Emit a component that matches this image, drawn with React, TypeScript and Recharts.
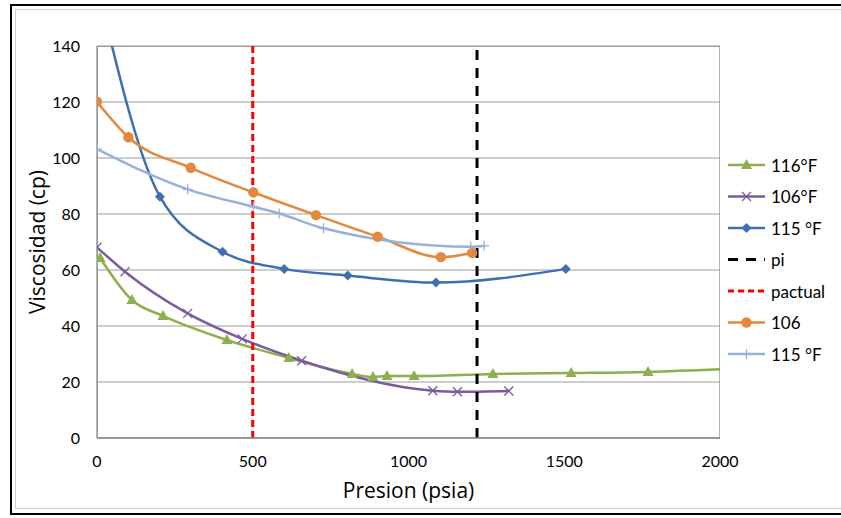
import React from 'react';
import { ComposedChart, Line, XAxis, YAxis, CartesianGrid, ReferenceArea } from 'recharts';

// ---- data ----
const p116 = [10, 112, 212, 417, 616, 819, 886, 931, 1018, 1271, 1522, 1769, 2060];
const v116 = [64.3, 49.3, 43.6, 35, 28.6, 22.9, 21.8, 22.1, 22.1, 22.9, 23.2, 23.6, 24.8];

const p106x = [0, 90, 291, 466, 657, 1078, 1157, 1322];
const v106x = [68.1, 59.4, 44.5, 35.4, 27.6, 16.9, 16.5, 16.8];

const p115d = [0, 202, 403, 601, 805, 1088, 1505];
const v115d = [162, 86.2, 66.5, 60.4, 58, 55.5, 60.4];

const piX = [1220, 1220];
const piY = [0, 140];

const pactX = [500, 500];
const pactY = [0, 140];

const p106 = [0, 101, 301, 502, 703, 901, 1104, 1204];
const v106 = [120.1, 107.4, 96.5, 87.7, 79.6, 71.9, 64.6, 66.1];

const p115p = [0, 291, 502, 585, 727, 1200, 1243];
const v115p = [103.2, 88.8, 82.6, 80.2, 74.9, 68.3, 68.7];

const xTicks = [0, 500, 1000, 1500, 2000];
const yTicks = [0, 20, 40, 60, 80, 100, 120, 140];

const zip = (xs: number[], ys: number[]) => xs.map((x, i) => ({ x, y: ys[i] }));

const C_GREEN = '#8DB04E';
const C_PURPLE = '#7A5C9E';
const C_BLUE = '#3E6FB2';
const C_ORANGE = '#E3893D';
const C_LBLUE = '#97B2D8';

const FONT = 'Lato, "Open Sans", sans-serif';
const TITLE_FONT = '"Open Sans", Lato, sans-serif';

type Kind = 'tri' | 'x' | 'diamond' | 'circle' | 'plus' | 'none';

function marker(kind: Kind, cx: number, cy: number, color: string, key?: string) {
  switch (kind) {
    case 'tri':
      return <path key={key} d={`M${cx},${cy - 6} L${cx + 5.5},${cy + 4} L${cx - 5.5},${cy + 4} Z`} fill={color} />;
    case 'x':
      return <path key={key} d={`M${cx - 4.5},${cy - 4.5} L${cx + 4.5},${cy + 4.5} M${cx - 4.5},${cy + 4.5} L${cx + 4.5},${cy - 4.5}`} stroke={color} strokeWidth={1.3} fill="none" />;
    case 'diamond':
      return <path key={key} d={`M${cx},${cy - 5} L${cx + 5},${cy} L${cx},${cy + 5} L${cx - 5},${cy} Z`} fill={color} />;
    case 'circle':
      return <circle key={key} cx={cx} cy={cy} r={5.2} fill={color} />;
    case 'plus':
      return <path key={key} d={`M${cx - 5},${cy} L${cx + 5},${cy} M${cx},${cy - 5} L${cx},${cy + 5}`} stroke={color} strokeWidth={1.3} fill="none" />;
    default:
      return null;
  }
}

const dotFn = (kind: Kind, color: string) => (props: any) => {
  const { cx, cy, index } = props;
  if (cx == null || cy == null) return <g key={`e-${index}`} />;
  return marker(kind, cx, cy, color, `d-${kind}-${index}`);
};

const legendItems: { name: string; color: string; kind: Kind; dash?: string }[] = [
  { name: '116°F', color: C_GREEN, kind: 'tri' },
  { name: '106°F', color: C_PURPLE, kind: 'x' },
  { name: '115 °F', color: C_BLUE, kind: 'diamond' },
  { name: 'pi', color: '#000000', kind: 'none', dash: '10 8' },
  { name: 'pactual', color: '#FF0000', kind: 'none', dash: '6 4' },
  { name: '106', color: C_ORANGE, kind: 'circle' },
  { name: '115 °F', color: C_LBLUE, kind: 'plus' },
];

const xTitle = (props: any) => {
  const vb = props.viewBox || {};
  return (
    <text x={vb.x + vb.width / 2} y={vb.y + 52} textAnchor="middle" dominantBaseline="central" fontSize={21} fontFamily={TITLE_FONT} fill="#000">
      Presion (psia)
    </text>
  );
};

const yTitle = (props: any) => {
  const vb = props.viewBox || {};
  const cx = 37;
  const cy = vb.y + vb.height / 2;
  return (
    <text x={cx} y={cy} transform={`rotate(-90, ${cx}, ${cy})`} textAnchor="middle" dominantBaseline="central" fontSize={21} fontFamily={TITLE_FONT} fill="#000">
      Viscosidad (cp)
    </text>
  );
};

export default function App() {
  return (
    <div style={{ position: 'absolute', left: 0, top: 0, width: 841, height: 518, background: '#fff', overflow: 'hidden' }}>
      <div style={{ position: 'absolute', left: 10, top: 4, width: 900, height: 511, border: '2px solid #000', boxSizing: 'border-box' }} />
      <div style={{ position: 'absolute', left: 15, top: 9, width: 900, height: 500, border: '1px solid #D0D0D0', boxSizing: 'border-box' }} />
      <div style={{ position: 'absolute', left: 0, top: 0 }}>
        <ComposedChart width={841} height={518} margin={{ top: 46, right: 121, bottom: 0, left: 0 }}>
          <CartesianGrid horizontal vertical={false} stroke="#BDBDBD" strokeWidth={1.3} />
          <ReferenceArea x1={0} x2={2000} y1={0} y2={140} fill="none" stroke="#8C8C8C" strokeWidth={1.3} ifOverflow="hidden" />
          <XAxis
            type="number"
            dataKey="x"
            domain={[0, 2000]}
            ticks={xTicks}
            allowDataOverflow
            height={80}
            tickLine={false}
            tickSize={0}
            tickMargin={18}
            axisLine={{ stroke: '#8C8C8C', strokeWidth: 1.3 }}
            tick={{ fontSize: 16, fill: '#000', fontFamily: FONT }}
            label={{ content: xTitle }}
          />
          <YAxis
            type="number"
            dataKey="y"
            domain={[0, 140]}
            ticks={yTicks}
            allowDataOverflow
            width={97}
            tickLine={false}
            tickSize={0}
            tickMargin={17}
            axisLine={{ stroke: '#8C8C8C', strokeWidth: 1.3 }}
            tick={{ fontSize: 16, fill: '#000', fontFamily: FONT }}
            label={{ content: yTitle }}
          />
          <Line data={zip(p116, v116)} dataKey="y" type="monotone" stroke={C_GREEN} strokeWidth={2.5} dot={dotFn('tri', C_GREEN)} isAnimationActive={false} />
          <Line data={zip(p106x, v106x)} dataKey="y" type="monotone" stroke={C_PURPLE} strokeWidth={2.5} dot={dotFn('x', C_PURPLE)} isAnimationActive={false} />
          <Line data={zip(p115d, v115d)} dataKey="y" type="monotone" stroke={C_BLUE} strokeWidth={2.5} dot={dotFn('diamond', C_BLUE)} isAnimationActive={false} />
          <Line data={zip(piX, piY)} dataKey="y" type="linear" stroke="#000" strokeWidth={3} strokeDasharray="10 8" dot={false} isAnimationActive={false} />
          <Line data={zip(pactX, pactY)} dataKey="y" type="linear" stroke="#FF0000" strokeWidth={3} strokeDasharray="7 4" dot={false} isAnimationActive={false} />
          <Line data={zip(p106, v106)} dataKey="y" type="monotone" stroke={C_ORANGE} strokeWidth={2.5} dot={dotFn('circle', C_ORANGE)} isAnimationActive={false} />
          <Line data={zip(p115p, v115p)} dataKey="y" type="monotone" stroke={C_LBLUE} strokeWidth={2.5} dot={dotFn('plus', C_LBLUE)} isAnimationActive={false} />
        </ComposedChart>
      </div>
      <svg style={{ position: 'absolute', left: 725, top: 148 }} width={116} height={225}>
        {legendItems.map((it, i) => {
          const y = 17 + i * 31.5;
          return (
            <g key={i}>
              <line x1={3} x2={40} y1={y} y2={y} stroke={it.color} strokeWidth={it.dash ? 3 : 2.5} strokeDasharray={it.dash} />
              {marker(it.kind, 21.5, y, it.color)}
              <text x={46} y={y} dominantBaseline="central" fontSize={17} fontFamily={FONT} fill="#000">{it.name}</text>
            </g>
          );
        })}
      </svg>
    </div>
  );
}
